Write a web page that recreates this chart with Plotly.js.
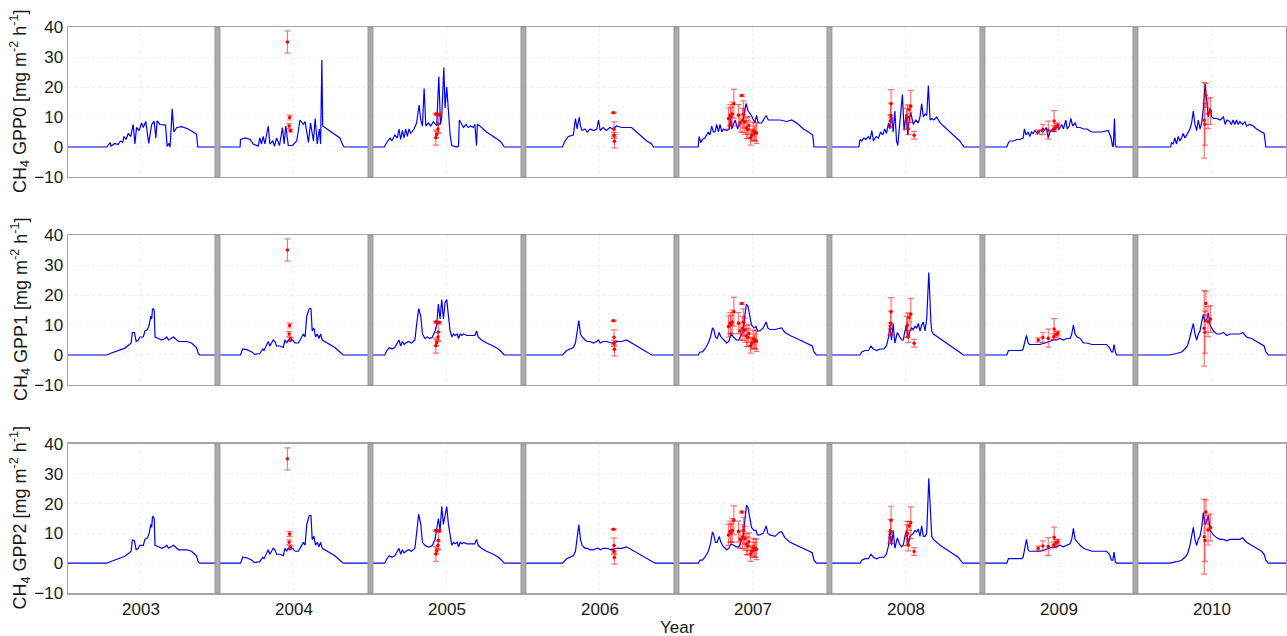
<!DOCTYPE html>
<html>
<head>
<meta charset="utf-8">
<script src="https://cdn.plot.ly/plotly-3.0.1.min.js"></script>
<style>
  html, body { margin: 0; padding: 0; background: #fff; }
  #chart { width: 1287px; height: 636px; }
</style>
</head>
<body>
<div id="chart"></div>
<script>
// Modelled CH4 flux for three GPP variants (GPP0, GPP1, GPP2), one block per year,
// with chamber observations (mean ± sd) overlaid in red.

const years = [2003, 2004, 2005, 2006, 2007, 2008, 2009, 2010];
const yearLabels = ['2003', '2004', '2005', '2006', '2007', '2008', '2009', '2010'];
const panelNames = ['GPP0', 'GPP1', 'GPP2'];

// ---------- GPP0 model (day of year, CH4 flux) ----------
const gpp0_2003_doy = [1,101,109,111,120,128,134,139,142,147,152,158,164,168,172,178,184,188,194,201,208,214,218,221,228,241,245,249,252,257,261,268,280,295,307,315,318,365];
const gpp0_2003_ch4 = [0,0,1.5,0.3,1.2,0.8,2,1.5,3.5,2.5,4.5,3.5,7.5,1,6.5,5.5,8,6.5,8.5,1.2,7.5,8.5,3,8.7,7.5,7.3,0.2,1.2,0,12.7,5,6.5,6.8,6,5,4.3,0,0];
const gpp0_2004_doy = [1,54,55,66,78,85,97,101,105,109,113,117,121,125,132,136,141,148,155,159,163,169,179,189,197,205,209,217,222,229,233,238,243,246,249,251,261,276,292,298,302,365];
const gpp0_2004_ch4 = [0,0,2.5,3,2.5,1,0.3,3,1,3.5,1,4,7,1,2,0.3,3,0.5,6.5,1,7,0.5,0.5,2,9,7.5,8.5,1.5,8,2,9.5,1,6,1,29,7,6,4.5,3,1,0,0];
const gpp0_2005_doy = [1,33,39,47,51,58,64,68,72,76,80,84,88,92,96,104,110,116,120,124,128,132,138,144,150,158,163,167,170,175,178,182,186,190,194,206,210,212,218,222,228,233,239,245,249,253,255,261,277,293,309,315,319,365];
const gpp0_2005_ch4 = [0,0,1.5,3,2,4,3,6,2.5,5.5,3,6,3.5,6,4.5,6,8,14,9,7,19.5,7,8,7,8.5,7,23.5,7.5,10,26.5,13,20,12,4,0.5,0,0.3,9,7.5,6.5,7.5,6.5,7,6.5,7.5,0.5,7.5,7,5,3.5,2,1,0,0];
const gpp0_2006_doy = [1,93,99,107,119,124,128,133,136,140,147,152,159,167,175,179,183,190,198,206,214,222,234,246,258,270,282,294,306,310,365];
const gpp0_2006_ch4 = [0,0,2,3.5,4,9.5,6,10,7,5.5,6,5,6,5.5,6,9,5.5,6.5,5.5,6.5,6,7,6.5,6.5,6.5,5,3.5,2,1,0,0];
const gpp0_2007_doy = [1,52,54,58,62,68,76,80,84,88,92,96,100,104,108,112,120,126,129,132,140,146,152,159,166,171,179,187,191,195,203,214,219,231,247,263,275,287,303,315,325,328,365];
const gpp0_2007_ch4 = [0,0,3.5,1.5,2.5,3,5,4,7,5,5,7.5,5,7.5,5,6,5.5,6,10,6,9,6,8.5,9,14.5,12,10.5,8,10.5,8,8,10.5,9,9,9,8.5,9,8,6,5,4,0,0];
const gpp0_2008_doy = [1,70,73,77,82,87,93,97,101,105,111,117,122,127,132,136,141,144,148,152,156,160,163,168,174,178,183,187,190,194,200,206,212,216,220,224,228,232,236,240,244,249,256,264,280,295,311,318,321,365];
const gpp0_2008_ch4 = [0,0,2.5,2,3,2.5,3.5,2.5,5.5,2,3.5,3,5,4,6,4.5,8,6,11,5,12,2,0.5,9,17.5,5.5,11,4,9,11.5,7.5,9,8,10,14.5,10,11,10.5,20.5,9,9.5,9,10,8,6,4,2,0.5,0,0];
const gpp0_2009_doy = [1,58,62,66,74,82,89,97,100,104,109,113,117,121,125,131,137,145,152,157,161,167,171,177,183,189,193,199,202,207,211,215,221,225,233,241,249,261,272,284,300,307,310,312,315,317,320,365];
const gpp0_2009_ch4 = [0,0,1.5,2,2,2.5,2.5,3,6,4,5,3.5,5,4.5,5.5,4.5,5.5,5,6.5,3,5,6,5,7,6,7.5,6,9,6,7,9.5,7,8,6.5,6.5,6,6,5,5,5,5.5,3,0.5,0,9.5,0.5,0,0];
const gpp0_2010_doy = [1,84,86,90,94,98,102,106,110,114,118,122,126,130,134,138,142,146,150,154,158,162,166,170,174,178,182,186,194,202,210,214,218,225,229,233,237,241,245,249,256,261,265,273,281,289,301,307,311,365];
const gpp0_2010_ch4 = [0,0,1.5,1,3,1,3.5,2,3,4.5,3,4,5,6,8,12,7.5,5.5,9,6,8,13,21,14,10,13,10,9.5,9.5,9,10,7.5,9,8.5,7.5,9,7.5,9,7.5,8.5,7.5,8.5,7,7.5,7,6,5,4.5,0,0];

// ---------- GPP1 model ----------
const gpp1_2003_doy = [1,101,109,120,132,144,155,159,162,167,171,176,180,188,192,198,202,206,208,210,214,216,224,232,240,244,248,256,260,264,272,292,303,311,315,319,323,365];
const gpp1_2003_ch4 = [0,0,0.5,1,1.5,2.3,3.5,4,7.5,7.5,4.5,5,6,6,8,8.5,10,13,12,15.5,15,6,5.5,5,5.5,6,5,5.5,6,5.5,4.5,4.5,4,3,2.5,0.5,0,0];
const gpp1_2004_doy = [1,55,60,70,82,89,101,108,111,117,121,125,129,133,137,141,149,157,161,165,169,173,179,185,193,201,205,209,213,219,223,226,230,234,238,242,246,250,256,268,280,292,300,365];
const gpp1_2004_ch4 = [0,0,2,1.8,1,0.2,0.5,2,1.5,3,4.5,3,4,5,4.5,3,3,2.5,5,4,5,4.5,5,4,4,6,7,6,13,15.5,15.5,8,9,6,7,5.5,7,5,4.5,3.5,2.5,1,0,0];
const gpp1_2005_doy = [1,34,39,45,51,58,64,68,72,76,80,84,90,98,106,110,115,120,124,130,136,142,148,154,158,162,166,170,174,178,182,186,190,194,198,202,207,210,214,218,222,230,241,249,253,257,265,277,293,305,313,319,365];
const gpp1_2005_ch4 = [0,0,1.5,2.5,2,2.5,4,5,3,4.5,3.5,4,4.5,4,5,10,15.5,13,7,5.5,6,5.5,6,8,10,17,12,18.5,12,17.5,18.5,13,8,6,7,6.5,7,5.5,7,6.5,7,6.5,6.5,6.5,8,6,5,4,3,2,1,0,0];
const gpp1_2006_doy = [1,93,103,111,119,124,128,132,136,140,147,152,159,167,175,179,183,190,198,210,222,234,246,258,270,282,294,306,365];
const gpp1_2006_ch4 = [0,0,1.5,2,2.5,4,8,11.5,7,6,5,4.5,4.5,4,4.5,5,4,4.5,4.5,4,4.5,4.5,5,4,3,2,1,0,0];
const gpp1_2007_doy = [1,52,56,62,68,76,81,86,89,93,97,102,106,112,120,125,130,136,143,149,154,159,163,167,171,175,179,185,190,193,199,207,214,218,223,235,247,251,259,271,287,302,318,324,328,334,365];
const gpp1_2007_ch4 = [0,0,1,1,2,4,6,9,8.5,6,5.5,7.5,6,5,4,4.5,7,6,5,5,6.5,8,13,17,16,13,10,9,9.5,8,8,9,11,9,8.5,8.5,9,9,7.5,6.5,5.5,4.5,3.5,3,1,0,0];
const gpp1_2008_doy = [1,73,77,85,93,99,105,113,120,130,136,141,144,148,152,156,162,167,172,176,180,184,188,192,196,200,204,208,212,216,220,224,228,232,237,242,244,248,264,280,295,307,315,319,365];
const gpp1_2008_ch4 = [0,0,1,1.5,1.5,3,2,1.5,2,2,3,6,10,5,10.5,4,7.5,6,5,5,8,9.5,5.5,8,9,8.5,9.5,9,10.5,8,10,11,8,12,27.5,11,8,7,5.5,4,2.5,1.5,0.5,0,0];
const gpp1_2009_doy = [1,58,62,74,82,94,97,101,105,109,112,121,137,149,161,169,177,185,193,201,209,213,217,221,226,233,241,249,261,280,296,303,308,311,314,317,320,365];
const gpp1_2009_ch4 = [0,0,1.5,1.5,1.7,1.5,2,4,6.5,4,3.5,3.5,3.5,4,4.5,5,5,5.5,5,5.5,5.5,7,10,7,6,5.5,4,4,3.5,3.5,3.5,2.5,1,1,3.5,1,0,0];
const gpp1_2010_doy = [1,82,98,110,118,124,130,134,138,142,146,150,154,158,162,166,170,174,178,186,194,202,210,218,225,233,241,249,256,265,277,289,301,307,311,317,365];
const gpp1_2010_ch4 = [0,0,0.5,1,2,3,6,8,10.5,7,5,7,8,11,13.5,11,12,14,10,8,7,7,7.5,6.5,7,7,7,7,7.5,6,5.5,4.5,3.5,3,1,0,0];

// ---------- GPP2 model ----------
const gpp2_2003_doy = [1,101,109,120,132,144,155,159,162,167,171,176,180,188,192,198,202,206,208,210,214,216,224,232,240,244,248,256,260,264,272,292,303,311,315,319,323,365];
const gpp2_2003_ch4 = [0,0,0.5,1,1.5,2.3,3.5,4,7.8,7.5,4.5,5,6,6,8,8.5,10,13,12,15.8,15,6,5.5,5,5.5,6,5,5.5,6,5.5,4.5,4.5,4,3,2.5,0.5,0,0];
const gpp2_2004_doy = [1,55,60,70,82,89,101,108,111,117,121,125,129,133,137,141,149,157,161,165,169,173,179,185,193,201,205,209,213,219,223,226,230,234,238,242,246,250,256,268,280,292,300,365];
const gpp2_2004_ch4 = [0,0,2,1.8,1,0.2,0.5,2,1.5,3,4.5,3,4,5,4.5,3,3,2.5,5,4,5,4.5,5,4,4,6,7,6,13,16,16,8,9,6,7,5.5,7,5,4.5,3.5,2.5,1,0,0];
const gpp2_2005_doy = [1,34,39,45,51,58,64,68,72,76,80,84,90,98,106,110,115,120,124,130,136,142,148,154,158,162,166,170,174,178,182,186,190,194,198,202,207,210,214,218,222,230,241,249,253,257,265,277,293,305,313,319,365];
const gpp2_2005_ch4 = [0,0,1.5,2.5,2,2.5,4,5,3,4.5,3.5,4,4.5,4,5,10,16.5,13,7,6,5.5,5.5,6,8,11,15,11,19,13,16,19,13,10,6,7,6.5,7,5.5,7,6.5,7,6.5,6.5,6.5,8,6,5,4,3,2,1,0,0];
const gpp2_2006_doy = [1,93,103,111,119,124,128,132,136,140,147,152,159,167,175,179,183,190,198,210,222,234,246,258,270,282,294,306,314,365];
const gpp2_2006_ch4 = [0,0,1.5,2,2.5,4,8.5,13,8,6,5,5,4.5,4.5,5,5,4.5,5,5,4.5,5,5,5.5,4.5,3.5,2.5,1.5,0.5,0,0];
const gpp2_2007_doy = [1,52,56,62,68,76,81,86,89,93,97,102,106,112,120,125,130,136,143,149,154,159,163,167,171,175,179,185,190,193,199,207,214,218,223,235,247,251,259,271,287,302,318,324,328,334,365];
const gpp2_2007_ch4 = [0,0,1,1,2,4,6.5,10.5,9.5,7,7,9,7,5.5,4.5,5,6.5,6,5.5,5.5,7,9,14,19.5,18.5,15,12,11,11,9.5,9.5,10,12.5,10,9.5,9,10.5,10.5,8.5,7,6,5,4,3.5,1,0,0];
const gpp2_2008_doy = [1,73,77,85,93,99,105,113,120,130,136,141,144,148,152,156,162,167,172,176,180,184,188,192,196,200,204,208,212,216,220,224,228,232,237,242,244,248,264,280,295,307,315,319,365];
const gpp2_2008_ch4 = [0,0,1,1.5,1.5,3,2,1.5,2,2,3,6,11.5,6,11,5,8.5,6.5,5.5,6,9,11,6,9,9.5,10,11,10.5,11.5,9,12.5,9,9,10,28.5,10,9,8,6,4.5,3,2,0.5,0,0];
const gpp2_2009_doy = [1,58,62,74,82,94,97,101,105,109,112,121,137,149,161,169,177,185,193,201,209,213,217,221,226,233,241,249,261,280,296,303,308,311,314,317,320,365];
const gpp2_2009_ch4 = [0,0,1.5,1.5,1.7,1.5,2,5,8,4.5,4,4,4,4.5,5,5.5,5.5,6,5.5,6,6.5,8,11.7,8,7,6,5,4.5,4,4,4,3,1,1,3.7,0.5,0,0];
const gpp2_2010_doy = [1,82,98,110,118,124,130,134,138,142,146,150,154,158,162,166,170,174,178,186,194,202,210,218,225,233,241,249,256,265,277,289,301,307,311,317,365];
const gpp2_2010_ch4 = [0,0,0.5,1,2,3,6,8.5,12,8,6,8,9,12,17,13,14,16,11,9.5,8.5,8,8,7.5,8,8,8,8,8.5,7,6,5,4,3,1,0,0];

// ---------- Chamber observations (same in every panel) ----------
const obs_year = [2004,2004,2004,2004, 2005,2005,2005,2005,2005,2005, 2006,2006,2006,2006,
  2007,2007,2007,2007,2007,2007,2007,2007,2007,2007,2007,2007,2007,2007,2007,2007,2007,2007,2007,2007,
  2008,2008,2008,2008,2008,2008,2008,2008,2008,
  2009,2009,2009,2009,2009,2009,2009,
  2010,2010,2010,2010,2010];
const obs_doy = [167,172,171,174, 156,164,162,161,158,156, 215,216,216,217,
  128,130,137,148,156,160,158,163,167,170,177,183,191,173,186,124,133,152,180,188,
  147,146,145,184,186,194,188,202,190,
  133,144,157,171,170,176,180,
  164,166,168,173,179];
const obs_ch4 = [35.0,9.8,7.0,5.4, 11.0,10.8,7.7,6.0,4.1,3.1, 11.4,5.9,3.9,1.9,
  10.6,10.2,14.4,10.6,17.2,10.9,8.9,8.3,6.4,5.8,3.1,5.3,4.7,7.2,4.5,9.5,11.0,8.0,4.0,5.0,
  14.4,10.6,8.7,9.4,10.0,13.6,6.1,3.9,12.5,
  5.0,5.8,5.6,8.7,6.1,6.9,7.2,
  8.9,7.6,17.2,11.1,12.0];
const obs_sd = [3.7,0.8,0.8,0.4, 0.3,0.4,3.0,1.5,1.0,2.5, 0.2,2.5,1.0,2.2,
  3.5,3.0,4.8,3.5,0.3,4.5,4.0,4.0,3.5,3.0,2.5,3.0,3.5,3.0,2.5,3.5,4.0,3.0,2.0,3.0,
  4.7,4.0,2.0,3.5,4.0,5.3,2.0,1.3,1.5,
  0.7,1.7,3.0,3.4,1.0,1.0,0.8,
  12.6,7.0,4.0,5.0,4.5];

const modelSeries = [
  [gpp0_2003_doy,gpp0_2003_ch4, gpp0_2004_doy,gpp0_2004_ch4, gpp0_2005_doy,gpp0_2005_ch4, gpp0_2006_doy,gpp0_2006_ch4,
   gpp0_2007_doy,gpp0_2007_ch4, gpp0_2008_doy,gpp0_2008_ch4, gpp0_2009_doy,gpp0_2009_ch4, gpp0_2010_doy,gpp0_2010_ch4],
  [gpp1_2003_doy,gpp1_2003_ch4, gpp1_2004_doy,gpp1_2004_ch4, gpp1_2005_doy,gpp1_2005_ch4, gpp1_2006_doy,gpp1_2006_ch4,
   gpp1_2007_doy,gpp1_2007_ch4, gpp1_2008_doy,gpp1_2008_ch4, gpp1_2009_doy,gpp1_2009_ch4, gpp1_2010_doy,gpp1_2010_ch4],
  [gpp2_2003_doy,gpp2_2003_ch4, gpp2_2004_doy,gpp2_2004_ch4, gpp2_2005_doy,gpp2_2005_ch4, gpp2_2006_doy,gpp2_2006_ch4,
   gpp2_2007_doy,gpp2_2007_ch4, gpp2_2008_doy,gpp2_2008_ch4, gpp2_2009_doy,gpp2_2009_ch4, gpp2_2010_doy,gpp2_2010_ch4]
];

// Each year occupies one unit on the x axis, centred on the year number.
const toX = (yr, doy) => yr - 0.5 + doy / 365;

const traces = [];
modelSeries.forEach((list, p) => {
  const axisSuffix = p === 0 ? '' : String(p + 1);
  for (let k = 0; k < years.length; k++) {
    const d = list[2 * k], v = list[2 * k + 1];
    traces.push({
      type: 'scatter', mode: 'lines',
      x: d.map(t => toX(years[k], t)), y: v,
      xaxis: 'x' + axisSuffix, yaxis: 'y' + axisSuffix,
      line: { color: '#0000ff', width: 1.2 },
      hoverinfo: 'skip', showlegend: false
    });
  }
  traces.push({
    type: 'scatter', mode: 'markers',
    x: obs_doy.map((t, i) => toX(obs_year[i], t)), y: obs_ch4,
    xaxis: 'x' + axisSuffix, yaxis: 'y' + axisSuffix,
    marker: { color: '#ff0000', size: 3.5 },
    error_y: { type: 'data', array: obs_sd, visible: true, color: 'rgba(255,0,0,0.55)', thickness: 1.2, width: 3 },
    hoverinfo: 'skip', showlegend: false
  });
});

// Panel placement (fractions of the plotting height)
const domains = [[0.735, 1.0], [0.3675, 0.6325], [0.0, 0.2633]];
const xRange = [2002.523, 2010.484];
const frame = '#a6a6a6';
const grid = '#f0f0f0';
const font = { family: 'Liberation Sans, Arial, Helvetica, sans-serif', size: 17, color: '#1a1a1a' };
const titleFont = { family: 'Liberation Sans, Arial, Helvetica, sans-serif', size: 18, color: '#1a1a1a' };

const layout = {
  width: 1287, height: 636,
  margin: { l: 68, r: 1, t: 27, b: 43 },
  paper_bgcolor: '#ffffff', plot_bgcolor: '#ffffff',
  font: font,
  showlegend: false,
  shapes: [], annotations: []
};

for (let p = 0; p < 3; p++) {
  const s = p === 0 ? '' : String(p + 1);
  layout['xaxis' + s] = {
    domain: [0, 1], range: xRange, anchor: 'y' + s,
    tickvals: years, ticktext: yearLabels, showticklabels: p === 2,
    ticks: '', showgrid: true, gridcolor: grid, griddash: 'dot', gridwidth: 1,
    zeroline: false, showline: true, linecolor: frame, linewidth: 1.5, mirror: true,
    tickfont: font, fixedrange: true
  };
  layout['yaxis' + s] = {
    domain: domains[p], range: [-10, 40], anchor: 'x' + s,
    tickvals: [-10, 0, 10, 20, 30, 40], ticks: '', ticklen: 0,
    showgrid: true, gridcolor: grid, griddash: 'dot', gridwidth: 1,
    zeroline: false, showline: true, linecolor: frame, linewidth: 1.5, mirror: true,
    tickfont: font, fixedrange: true
  };
  // grey separators between the yearly blocks
  for (let k = 0; k < years.length - 1; k++) {
    layout.shapes.push({
      type: 'rect', xref: 'x' + s, yref: 'y' + s + ' domain',
      x0: years[k] + 0.5 - 0.0165, x1: years[k] + 0.5 + 0.0165, y0: 0, y1: 1,
      fillcolor: '#ababab', line: { color: '#8f8f8f', width: 0.8 }, layer: 'above'
    });
  }
  layout.annotations.push({
    xref: 'paper', yref: 'y' + s + ' domain', x: 0, y: 0.5,
    xanchor: 'center', yanchor: 'middle', xshift: -48, textangle: -90,
    text: 'CH<sub>4</sub> ' + panelNames[p] + ' [mg m<sup>-2</sup> h<sup>-1</sup>]',
    showarrow: false, font: titleFont
  });
}
layout.annotations.push({
  xref: 'paper', yref: 'paper', x: 0.5, y: 0, yshift: -23,
  xanchor: 'center', yanchor: 'top', text: 'Year', showarrow: false, font: font
});

Plotly.newPlot('chart', traces, layout, { displayModeBar: false, staticPlot: true });
</script>
</body>
</html>
